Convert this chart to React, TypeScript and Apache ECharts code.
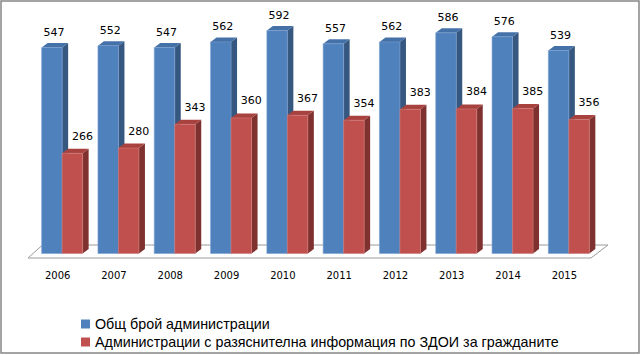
import React, { useEffect, useRef } from "react";
import * as echarts from "echarts";

const years = ["2006", "2007", "2008", "2009", "2010", "2011", "2012", "2013", "2014", "2015"];
const totalAdmins = [547, 552, 547, 562, 592, 557, 562, 586, 576, 539];
const withInfo = [266, 280, 343, 360, 367, 354, 383, 384, 385, 356];
const seriesNames = [
  "Общ брой администрации",
  "Администрации с разяснителна информация по ЗДОИ за гражданите",
];

const GRID_LEFT = 34;
const GRID_WIDTH = 563;
const GRID_TOP = 27.6;
const BASE_Y = 253.5;
const DEPTH_X = 6;
const DEPTH_Y = -4.5;

const palettes = [
  { front: "#4F81BD", side: "#36577F", top: "#4471A8", edge: "#7A9FD0" },
  { front: "#C0504D", side: "#7E312F", top: "#A8423F", edge: "#D07A78" },
];

function makeRender(side: number, ldx: number, ldy: number) {
  const pal = palettes[side];
  return (params: any, api: any) => {
    const cat = api.value(0);
    const val = api.value(1);
    const topPt = api.coord([cat, val]);
    const basePt = api.coord([cat, 0]);
    const band = api.size([1, 0])[0];
    const w = band * 0.364;
    const x = side === 0 ? topPt[0] - w : topPt[0];
    const yT = topPt[1];
    const yB = basePt[1];
    return {
      type: "group",
      children: [
        {
          type: "polygon",
          shape: {
            points: [
              [x + w, yT],
              [x + w + DEPTH_X, yT + DEPTH_Y],
              [x + w + DEPTH_X, yB + DEPTH_Y],
              [x + w, yB],
            ],
          },
          style: { fill: pal.side },
        },
        {
          type: "polygon",
          shape: {
            points: [
              [x, yT],
              [x + DEPTH_X, yT + DEPTH_Y],
              [x + w + DEPTH_X, yT + DEPTH_Y],
              [x + w, yT],
            ],
          },
          style: { fill: pal.top },
        },
        {
          type: "rect",
          shape: { x, y: yT, width: w, height: yB - yT },
          style: { fill: pal.front, stroke: pal.edge, lineWidth: 0.6 },
        },
        {
          type: "text",
          x: x + w / 2 + ldx,
          y: yT + ldy,
          style: {
            text: String(val),
            fill: "#000",
            font: '11px "DejaVu Sans"',
            align: "center",
            verticalAlign: "middle",
          },
        },
      ],
    };
  };
}

export default function App() {
  const ref = useRef<HTMLDivElement>(null);
  useEffect(() => {
    if (!ref.current) return;
    const chart = echarts.init(ref.current, null, { renderer: "svg" });
    const floorFrontY = BASE_Y + 4.5;
    const floorBackY = BASE_Y - 8.5;
    chart.setOption({
      animation: false,
      backgroundColor: "#fff",
      grid: {
        left: GRID_LEFT,
        top: GRID_TOP,
        width: GRID_WIDTH,
        height: BASE_Y - GRID_TOP,
      },
      xAxis: {
        type: "category",
        data: years,
        axisLine: { show: false },
        axisTick: { show: false },
        splitLine: { show: false },
        axisLabel: {
          color: "#000",
          fontFamily: "DejaVu Sans",
          fontSize: 10,
          margin: 17,
          padding: [0, 9, 0, 0],
        },
      },
      yAxis: {
        type: "value",
        min: 0,
        max: 600,
        show: false,
        splitLine: { show: false },
      },
      legend: {
        orient: "vertical",
        left: 81,
        top: 317,
        padding: 0,
        height: 40,
        icon: "rect",
        itemWidth: 9,
        itemHeight: 9,
        itemGap: 4,
        data: seriesNames,
        textStyle: {
          color: "#000",
          fontFamily: "Liberation Sans",
          fontSize: 14.3,
          lineHeight: 14,
        },
      },
      graphic: [
        {
          type: "polygon",
          z: 0,
          shape: {
            points: [
              [GRID_LEFT - 6, floorFrontY],
              [GRID_LEFT + GRID_WIDTH - 6, floorFrontY],
              [GRID_LEFT + GRID_WIDTH + 11, floorBackY],
              [GRID_LEFT + 8.5, floorBackY],
            ],
          },
          style: { fill: "#fff", stroke: "#9a9a9a", lineWidth: 1 },
        },
        {
          type: "rect",
          z: 100,
          shape: { x: 1, y: 1, width: 638, height: 352 },
          style: { fill: "none", stroke: "#868686", lineWidth: 1.5 },
        },
      ],
      series: [
        {
          type: "custom",
          name: seriesNames[0],
          z: 2,
          itemStyle: { color: palettes[0].front },
          renderItem: makeRender(0, 2, -15),
          encode: { x: 0, y: 1 },
          data: totalAdmins.map((v, i) => [i, v]),
        },
        {
          type: "custom",
          name: seriesNames[1],
          z: 3,
          itemStyle: { color: palettes[1].front },
          renderItem: makeRender(1, 10, -17),
          encode: { x: 0, y: 1 },
          data: withInfo.map((v, i) => [i, v]),
        },
      ],
    });
    return () => chart.dispose();
  }, []);
  return (
    <div
      ref={ref}
      style={{ position: "absolute", left: 0, top: 0, width: 640, height: 355 }}
    />
  );
}
